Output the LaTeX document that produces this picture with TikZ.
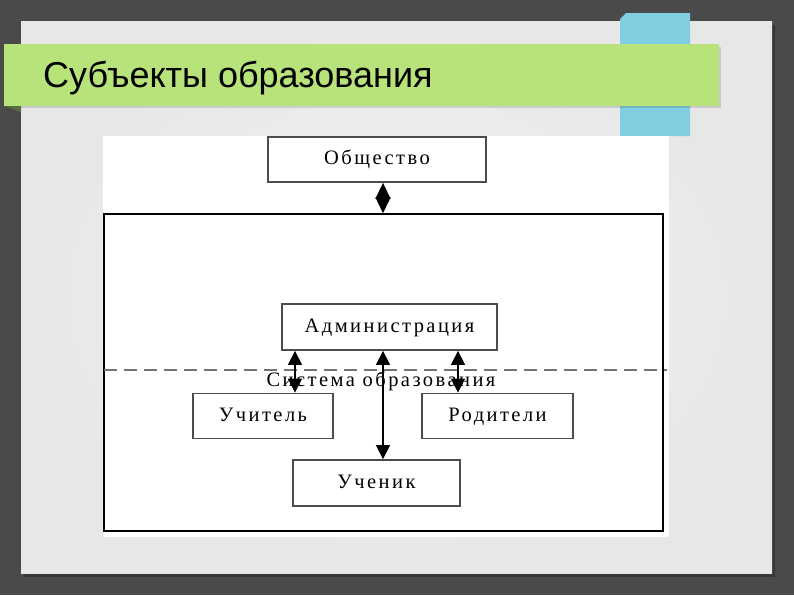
\documentclass[tikz,border=0pt]{standalone}
\usepackage{fontspec}
\setmainfont{Liberation Serif}
\newfontfamily\titlefont{Liberation Sans}
\newfontfamily\schemefont[LetterSpace=12]{Liberation Serif}
\usepackage{xcolor}
\usetikzlibrary{arrows.meta, positioning, calc}

\definecolor{fon}{RGB}{74,74,74}
\definecolor{slajd}{RGB}{231,231,231}
\definecolor{slajdsvet}{RGB}{244,244,244}
\definecolor{zelen}{RGB}{184,227,122}
\definecolor{zelenten}{RGB}{92,110,64}
\definecolor{goluboj}{RGB}{127,207,224}

\begin{document}
\begin{tikzpicture}[
        x=1pt, y=-1pt,
        >={Triangle[length=14pt, width=14pt]},
        subj/.style={rectangle, draw=black!70, line width=1.8pt, fill=white, inner sep=0pt, text height=14pt, text depth=4pt, font=\schemefont\fontsize{20.5}{22}\selectfont},
        ramka/.style={rectangle, draw=black, line width=1.5pt, inner sep=0pt},
        link/.style={draw, <->, line width=1.4pt, black}
    ]
        \useasboundingbox (0,0) rectangle (794,595);

        % ================= ФОН СЛАЙДА =================
        \fill[fon] (0,0) rectangle (794,595);
        \fill[black, opacity=0.25] (24,25) rectangle (775,577);
        \shade[inner color=slajdsvet, outer color=slajd] (21,21) rectangle (772,573);

        % голубая полоса и зелёная плашка заголовка
        \fill[goluboj] (626,13) -- (690,13) -- (690,136) -- (620,136) -- (620,19) -- cycle;
        \fill[black, opacity=0.12] (7,47) rectangle (721,108);
        \fill[zelen] (4,44) rectangle (719,106);
        \fill[zelenten] (4,106) -- (21,106) -- (21,112) -- cycle;
        \node[font=\titlefont\fontsize{36}{40}\selectfont, anchor=base west, inner sep=0pt] (zagolovok) at (43,87) {Субъекты образования};

        % ================= СХЕМА =================
        \fill[white] (103,136) rectangle (669,537);

        \node[subj, minimum width=218, minimum height=45] (obshch) at (377,159.5) {Общество};
        \node[ramka, minimum width=559, minimum height=317] (sistema) at (383.5,372.5) {};

        % граница системы образования
        \coordinate (granL) at (104,370);
        \coordinate (granR) at (667,370);
        \draw[black!55, line width=2.6pt, dash pattern=on 13pt off 7pt] (granL) -- (granR);
        \node[font=\schemefont\fontsize{20.5}{22}\selectfont, inner sep=0pt] (podpis) at (381,381) {Система образования};

        \node[subj, minimum width=215, minimum height=46] (admin) at (389.5,327) {Администрация};
        \node[subj, minimum width=140, minimum height=45] (uchitel) at (263,416) {Учитель};
        \node[subj, minimum width=151, minimum height=45] (roditeli) at (497.5,416) {Родители};
        \node[subj, minimum width=167, minimum height=46] (uchenik) at (376.5,483) {Ученик};

        % Связи
        \coordinate (os) at (383,0);
        \coordinate (levo) at (295,0);
        \coordinate (pravo) at (458,0);
        \path[link, {Triangle[length=16pt, width=15pt]}-{Triangle[length=16pt, width=15pt]}] (obshch.south -| os) -- (sistema.north -| os);
        \path[link] (admin.south -| os) -- (uchenik.north -| os);
        \path[link] (admin.south -| levo) -- (uchitel.north -| levo);
        \path[link] (admin.south -| pravo) -- (roditeli.north -| pravo);

    \end{tikzpicture}
\end{document}
